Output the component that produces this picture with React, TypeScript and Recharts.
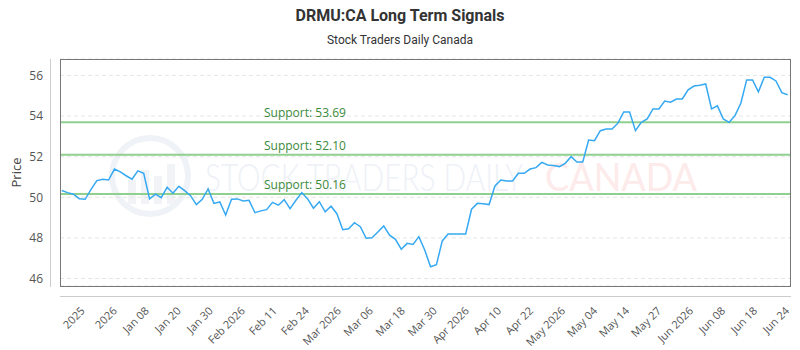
import { LineChart, Line, XAxis, YAxis, CartesianGrid, ReferenceLine } from "recharts";

const tickLabels = [
  "2025", "2026", "Jan 08", "Jan 20", "Jan 30", "Feb 2026", "Feb 11", "Feb 24",
  "Mar 2026", "Mar 06", "Mar 18", "Mar 30", "Apr 2026", "Apr 10", "Apr 22",
  "May 2026", "May 04", "May 14", "May 27", "Jun 2026", "Jun 08", "Jun 18", "Jun 24",
];

const prices = [
  50.33, 50.23, 50.15, 49.93, 49.9, 50.39, 50.82, 50.89, 50.85, 51.39,
  51.25, 51.06, 50.89, 51.3, 51.18, 49.92, 50.15, 49.98, 50.49, 50.2,
  50.54, 50.33, 50.08, 49.64, 49.9, 50.41, 49.7, 49.77, 49.13, 49.9,
  49.92, 49.82, 49.85, 49.24, 49.33, 49.39, 49.75, 49.61, 49.88, 49.44,
  49.85, 50.23, 49.92, 49.46, 49.78, 49.28, 49.56, 49.19, 48.4, 48.45,
  48.75, 48.55, 47.98, 48.01, 48.29, 48.59, 48.13, 47.93, 47.44, 47.73,
  47.68, 48.06, 47.4, 46.58, 46.68, 47.85, 48.19, 48.19, 48.19, 48.19,
  49.41, 49.7, 49.68, 49.64, 50.56, 50.85, 50.8, 50.8, 51.18, 51.18,
  51.39, 51.46, 51.72, 51.59, 51.56, 51.51, 51.67, 52.0, 51.74, 51.74,
  52.82, 52.79, 53.28, 53.36, 53.36, 53.65, 54.2, 54.2, 53.28, 53.69,
  53.86, 54.35, 54.35, 54.74, 54.68, 54.84, 54.84, 55.29, 55.48, 55.52,
  55.58, 54.35, 54.5, 53.86, 53.69, 54.02, 54.63, 55.78, 55.78, 55.19,
  55.91, 55.91, 55.73, 55.15, 55.05,
];

const supports = [53.69, 52.1, 50.16];
const yTicks = [46, 48, 50, 52, 54, 56];

// tick labels sit evenly along the axis, not on exact sessions
const TICK_START = 3.1;
const TICK_STEP = 5.47;

const data = prices.map((price, i) => ({ i, price }));
const xTicks = tickLabels.map((_, k) => TICK_START + k * TICK_STEP);

const XTick = ({ x, y, payload }: any) => {
  const label = tickLabels[Math.round((payload.value - TICK_START) / TICK_STEP)];
  return (
    <g transform={`translate(${x},${y})`}>
      <text x={0} y={0} dy={8} textAnchor="end" transform="rotate(-45)" fontSize={11} fill="#555">
        {label}
      </text>
    </g>
  );
};

const supportLabel = (value: number) => (props: any) => {
  const { viewBox } = props;
  return (
    <text x={viewBox.x + 204} y={viewBox.y - 5} fontSize={12} fill="#3b8a3b">
      {`Support: ${value.toFixed(2)}`}
    </text>
  );
};

export default function App() {
  return (
    <div
      style={{
        position: "absolute",
        left: 0,
        top: 0,
        width: 800,
        height: 350,
        background: "#fff",
        fontFamily: "'Open Sans', sans-serif",
      }}
    >
      {/* faint watermark */}
      <svg width={800} height={350} style={{ position: "absolute", left: 0, top: 0 }}>
        <circle cx={150} cy={176} r={38} fill="none" stroke="#eff2f7" strokeWidth={6} />
        <rect x={128} y={180} width={8} height={24} fill="#f1f3f7" />
        <rect x={141} y={170} width={8} height={34} fill="#f1f3f7" />
        <rect x={154} y={176} width={8} height={28} fill="#f1f3f7" />
        <rect x={167} y={164} width={8} height={40} fill="#f1f3f7" />
        <text x={205} y={191} fontSize={38} fontWeight={300} fill="#eef1f7" textLength={318} lengthAdjust="spacingAndGlyphs" fontFamily="Lato">
          STOCK TRADERS DAILY
        </text>
        <text x={545} y={191} fontSize={38} fill="#fdeaea" textLength={152} lengthAdjust="spacingAndGlyphs" fontFamily="Lato">
          CANADA
        </text>
      </svg>

      <div
        style={{
          position: "absolute",
          top: 5,
          width: 800,
          textAlign: "center",
          fontFamily: "Roboto",
          fontWeight: 700,
          fontSize: 16,
          lineHeight: "22px",
          color: "#333",
        }}
      >
        DRMU:CA Long Term Signals
      </div>
      <div
        style={{
          position: "absolute",
          top: 32,
          width: 800,
          textAlign: "center",
          fontFamily: "Roboto",
          fontSize: 12,
          lineHeight: "16px",
          color: "#333",
        }}
      >
        Stock Traders Daily Canada
      </div>

      <div style={{ position: "absolute", left: 0, top: 0 }}>
        <LineChart width={800} height={350} data={data} margin={{ top: 59, right: 10, bottom: 4, left: 0 }}>
          <CartesianGrid vertical={false} stroke="#e6e6e6" strokeDasharray="4 3" />
          <XAxis
            dataKey="i"
            type="number"
            domain={[-0.3, 124.4]}
            allowDataOverflow
            ticks={xTicks}
            interval={0}
            tick={<XTick />}
            tickLine={false}
            axisLine={false}
            tickSize={0}
            tickMargin={20}
            height={60}
          />
          <YAxis
            type="number"
            domain={[45.63, 56.81]}
            allowDataOverflow
            ticks={yTicks}
            interval={0}
            tickLine={false}
            axisLine={false}
            tickSize={0}
            tickMargin={17}
            width={60}
            tick={{ fontSize: 12, fill: "#555" }}
            label={{
              value: "Price",
              angle: -90,
              position: "insideLeft",
              offset: 16,
              style: { textAnchor: "middle", fontSize: 13, fill: "#444" },
            }}
          />
          {supports.map((s) => (
            <ReferenceLine key={s} y={s} stroke="#8fd08f" strokeWidth={2} label={supportLabel(s)} />
          ))}
          <Line
            type="linear"
            dataKey="price"
            stroke="#36a9f2"
            strokeWidth={1.5}
            dot={false}
            isAnimationActive={false}
          />
        </LineChart>
      </div>

      {/* plot frame and detached axis lines */}
      <div
        style={{
          position: "absolute",
          left: 60,
          top: 59,
          width: 729,
          height: 226,
          border: "1px solid #777",
          pointerEvents: "none",
        }}
      />
      <div style={{ position: "absolute", left: 50, top: 59, width: 1, height: 228, background: "#ccc" }} />
      <div style={{ position: "absolute", left: 60, top: 296, width: 731, height: 1, background: "#ccc" }} />
    </div>
  );
}
